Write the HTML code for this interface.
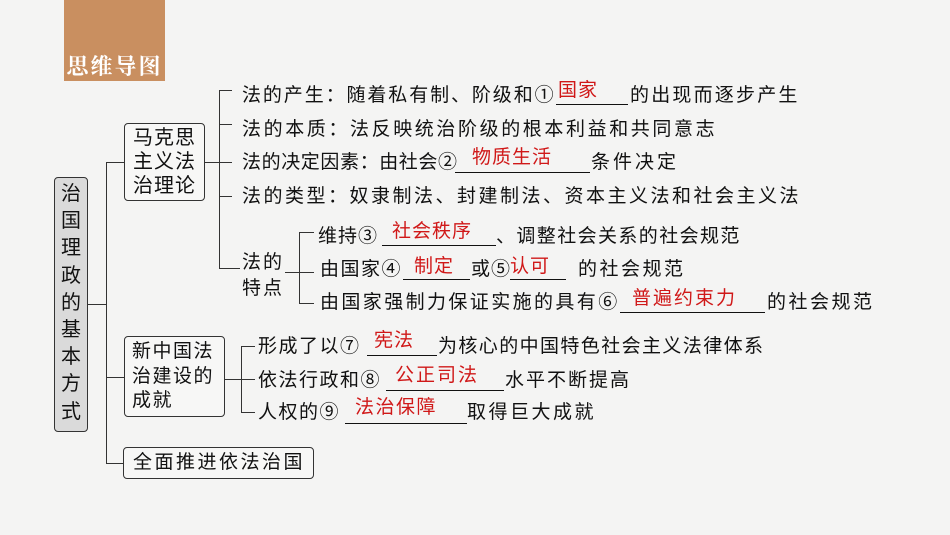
<!DOCTYPE html>
<html><head><meta charset="utf-8"><style>
body{margin:0;width:950px;height:535px;background:#f4f4f3;position:relative;overflow:hidden;font-family:"Liberation Sans","Noto Sans CJK SC",sans-serif;color:#111}
.t{position:absolute;font-size:19px;line-height:20px;white-space:nowrap;letter-spacing:2px}
.r{position:absolute;font-size:19px;line-height:20px;white-space:nowrap;color:#d01818;letter-spacing:1px}
.u{position:absolute;height:0;border-bottom:1.3px solid #111}
.l{position:absolute;background:#333}
.box{position:absolute;border:1.3px solid #333;border-radius:4px;box-sizing:border-box;background:#f7f7f6}
</style></head><body>
<div style="position:absolute;left:64px;top:0;width:101px;height:81px;background:#c98f60"></div>
<div style="position:absolute;left:64px;top:50px;width:101px;text-align:center;color:#fff;font-size:22px;font-weight:bold;letter-spacing:2px;font-family:'Noto Serif CJK SC','Noto Sans CJK SC',serif">思维导图</div>

<div class="box" style="left:54px;top:177px;width:34px;height:255px;background:#dadada"></div>
<div style="position:absolute;left:54px;top:181px;width:34px;text-align:center;font-size:20px;line-height:27.2px">治<br>国<br>理<br>政<br>的<br>基<br>本<br>方<br>式</div>

<div class="l" style="left:88px;top:304px;width:19px;height:1.3px"></div>
<div class="l" style="left:106px;top:162px;width:1.3px;height:302px"></div>
<div class="l" style="left:106px;top:162px;width:18px;height:1.3px"></div>
<div class="l" style="left:106px;top:377px;width:18px;height:1.3px"></div>
<div class="l" style="left:106px;top:463px;width:18px;height:1.3px"></div>

<div class="box" style="left:124px;top:123px;width:81px;height:78px"></div>
<div style="position:absolute;left:124px;top:126px;width:81px;text-align:center;font-size:20px;line-height:24px;letter-spacing:1px">马克思<br>主义法<br>治理论</div>
<div class="l" style="left:205px;top:162px;width:27px;height:1.3px"></div>
<div class="l" style="left:219px;top:90px;width:1.3px;height:179px"></div>
<div class="l" style="left:219px;top:90px;width:13px;height:1.3px"></div>
<div class="l" style="left:219px;top:124px;width:13px;height:1.3px"></div>
<div class="l" style="left:219px;top:196px;width:13px;height:1.3px"></div>
<div class="l" style="left:219px;top:268px;width:21px;height:1.3px"></div>

<div class="t" style="left:242px;top:86px;letter-spacing:1.9px">法的产生：随着私有制、阶级和①</div>
<div class="u" style="left:556px;top:104px;width:72px"></div>
<div class="r" style="left:558px;top:81px">国家</div>
<div class="t" style="left:630px;top:86px;letter-spacing:2.2px">的出现而逐步产生</div>

<div class="t" style="left:242px;top:120px;letter-spacing:2.6px">法的本质：法反映统治阶级的根本利益和共同意志</div>

<div class="t" style="left:242px;top:153px;letter-spacing:0.6px">法的决定因素：由社会②</div>
<div class="u" style="left:455px;top:172px;width:135px"></div>
<div class="r" style="left:472px;top:148px">物质生活</div>
<div class="t" style="left:591px;top:153px;letter-spacing:3px">条件决定</div>

<div class="t" style="left:242px;top:187px;letter-spacing:2.5px">法的类型：奴隶制法、封建制法、资本主义法和社会主义法</div>

<div style="position:absolute;left:242px;top:250px;font-size:19px;line-height:26px;letter-spacing:2px">法的<br>特点</div>
<div class="l" style="left:285px;top:272px;width:15px;height:1.3px"></div>
<div class="l" style="left:299px;top:232px;width:1.3px;height:72px"></div>
<div class="l" style="left:299px;top:232px;width:15px;height:1.3px"></div>
<div class="l" style="left:299px;top:272px;width:15px;height:1.3px"></div>
<div class="l" style="left:299px;top:303px;width:15px;height:1.3px"></div>

<div class="t" style="left:318px;top:227px;letter-spacing:1px">维持③</div>
<div class="u" style="left:382px;top:245px;width:114px"></div>
<div class="r" style="left:392px;top:222px">社会秩序</div>
<div class="t" style="left:496px;top:227px;letter-spacing:1.4px">、调整社会关系的社会规范</div>

<div class="t" style="left:320px;top:260px;letter-spacing:1.5px">由国家④</div>
<div class="u" style="left:403px;top:279px;width:67px"></div>
<div class="r" style="left:414px;top:257px">制定</div>
<div class="t" style="left:471px;top:260px;letter-spacing:1px">或⑤</div>
<div class="u" style="left:510px;top:279px;width:56px"></div>
<div class="r" style="left:510px;top:257px">认可</div>
<div class="t" style="left:578px;top:260px;letter-spacing:2.5px">的社会规范</div>

<div class="t" style="left:320px;top:293px;letter-spacing:2.4px">由国家强制力保证实施的具有⑥</div>
<div class="u" style="left:620px;top:312px;width:145px"></div>
<div class="r" style="left:632px;top:289px;letter-spacing:2px">普遍约束力</div>
<div class="t" style="left:767px;top:293px;letter-spacing:2.5px">的社会规范</div>

<div class="box" style="left:124px;top:336px;width:101px;height:81px"></div>
<div style="position:absolute;left:132px;top:340px;font-size:19px;line-height:24.5px;letter-spacing:1.5px">新中国法<br>治建设的<br>成就</div>
<div class="l" style="left:225px;top:379px;width:30px;height:1.3px"></div>
<div class="l" style="left:241px;top:346px;width:1.3px;height:67px"></div>
<div class="l" style="left:241px;top:346px;width:14px;height:1.3px"></div>
<div class="l" style="left:241px;top:412px;width:14px;height:1.3px"></div>

<div class="t" style="left:258px;top:337px;letter-spacing:1.5px">形成了以⑦</div>
<div class="u" style="left:367px;top:355px;width:70px"></div>
<div class="r" style="left:374px;top:331px">宪法</div>
<div class="t" style="left:438px;top:337px;letter-spacing:1.4px">为核心的中国特色社会主义法律体系</div>

<div class="t" style="left:258px;top:371px;letter-spacing:1.5px">依法行政和⑧</div>
<div class="u" style="left:386px;top:390px;width:118px"></div>
<div class="r" style="left:395px;top:366px;letter-spacing:2px">公正司法</div>
<div class="t" style="left:505px;top:371px;letter-spacing:2px">水平不断提高</div>

<div class="t" style="left:258px;top:403px;letter-spacing:1.5px">人权的⑨</div>
<div class="u" style="left:345px;top:423px;width:122px"></div>
<div class="r" style="left:355px;top:398px;letter-spacing:1.5px">法治保障</div>
<div class="t" style="left:467px;top:403px;letter-spacing:2.5px">取得巨大成就</div>

<div class="box" style="left:123px;top:447px;width:191px;height:32px"></div>
<div class="t" style="left:133px;top:453px;letter-spacing:2.5px">全面推进依法治国</div>
</body></html>
